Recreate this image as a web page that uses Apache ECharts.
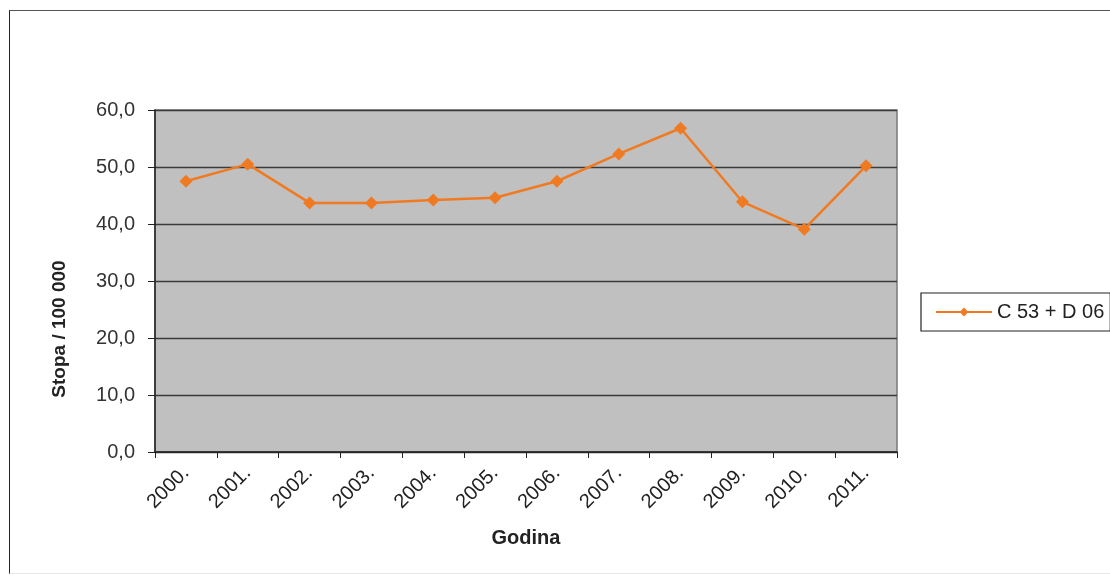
<!DOCTYPE html>
<html><head><meta charset="utf-8">
<script src="https://cdn.jsdelivr.net/npm/echarts@6/dist/echarts.min.js"></script>
<style>
html,body{margin:0;padding:0;background:#fff;}
#frame{position:absolute;left:9px;top:10px;width:1110px;height:562px;border-top:1.5px solid #555;border-left:1.5px solid #222;border-bottom:1px solid #e6e6e6;}
#c{position:absolute;left:0;top:0;width:1110px;height:576px;}
</style></head>
<body><div id="frame"></div><div id="c"></div>
<script>
const categories = ['2000.','2001.','2002.','2003.','2004.','2005.','2006.','2007.','2008.','2009.','2010.','2011.'];
const seriesName = 'C 53 + D 06';
const values = [47.5, 50.5, 43.7, 43.7, 44.2, 44.6, 47.5, 52.3, 56.8, 43.9, 39.1, 50.2];

const chart = echarts.init(document.getElementById('c'));
const txt = {fontFamily:'Liberation Sans, Arial, sans-serif', color:'#222'};
chart.setOption({
  animation:false,
  textStyle:{fontFamily:'Liberation Sans, Arial, sans-serif'},
  grid:{left:155, right:213, top:110, bottom:124, show:true, backgroundColor:'#c0c0c0', borderColor:'#7a7a7a', borderWidth:1.5},
  legend:{
    data:[seriesName], orient:'vertical', left:921, top:293,
    borderColor:'#222', borderWidth:1.2, padding:[9,6,9,14], itemWidth:56, itemHeight:11,
    textStyle:{...txt, fontSize:20}
  },
  xAxis:{
    type:'category', data:categories, boundaryGap:true,
    name:'Godina', nameLocation:'middle', nameGap:76,
    nameTextStyle:{...txt, fontSize:20, fontWeight:'bold'},
    axisLine:{lineStyle:{color:'#222', width:1.5}},
    axisTick:{show:true, length:6, lineStyle:{color:'#222'}},
    axisLabel:{rotate:45, margin:18, ...txt, fontSize:20}
  },
  yAxis:{
    type:'value', min:0, max:60, interval:10,
    name:'Stopa / 100 000', nameLocation:'middle', nameGap:86,
    nameTextStyle:{...txt, fontSize:19, fontWeight:'bold', padding:[0,96,0,0]},
    axisLine:{show:true, lineStyle:{color:'#222', width:1.5}},
    axisTick:{show:true, length:7, lineStyle:{color:'#222'}},
    axisLabel:{margin:20, ...txt, color:'#333', fontSize:20, formatter:v=>v.toFixed(1).replace('.',',')},
    splitLine:{show:true, lineStyle:{color:'#3a3a3a', width:1.3}}
  },
  series:[{
    name:seriesName, type:'line', data:values,
    symbol:'diamond', symbolSize:13,
    lineStyle:{color:'#f07a22', width:2.5},
    itemStyle:{color:'#f07a22'}
  }]
});
</script></body></html>
